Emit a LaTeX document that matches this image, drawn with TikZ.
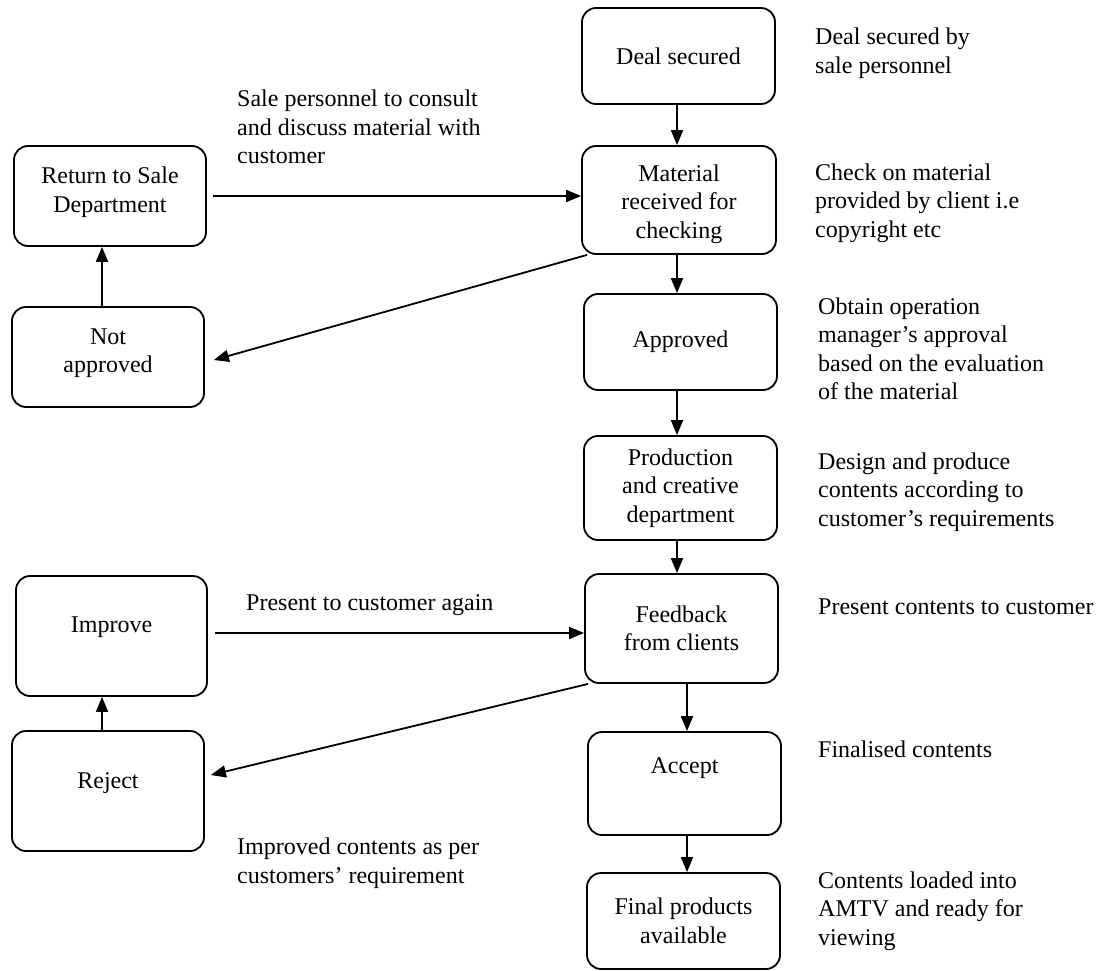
\documentclass[tikz,border=0pt]{standalone}
\usepackage{fontspec}
\setmainfont{Liberation Serif}
\usetikzlibrary{arrows.meta}
% raise text inside a box without changing its size
\newcommand\liftby[2]{\raisebox{#1}[\height][\depth]{#2}}
\begin{document}
\begin{tikzpicture}[x=1pt,y=-1pt,
  every node/.style={font=\fontsize{24}{28.5}\selectfont},
  box/.style={draw, line width=1.8pt, rounded corners=14pt, inner sep=0pt, align=center},
  note/.style={anchor=west, inner sep=0pt, align=left},
  arr/.style={line width=1.8pt, -{Triangle[length=15pt,width=12pt]}}
]
\useasboundingbox (0,0) rectangle (1111,971);

% main column
\node[box, minimum width=193pt, minimum height=96pt]  (deal)     at (678.5,56)  {Deal secured};
\node[box, minimum width=194pt, minimum height=108pt] (material) at (679,200)   {\liftby{-4pt}{Material}\\\liftby{-4pt}{received for}\\\liftby{-4pt}{checking}};
\node[box, minimum width=193pt, minimum height=96pt]  (approved) at (680.5,342) {Approved};
\node[box, minimum width=193pt, minimum height=104pt] (prod)     at (680.5,488) {Production\\and creative\\department};
\node[box, minimum width=193pt, minimum height=109pt] (feedback) at (681.5,628.5) {Feedback\\from clients};
\node[box, minimum width=193pt, minimum height=103pt] (accept)   at (684.5,783.5) {\liftby{15pt}{Accept}};
\node[box, minimum width=193pt, minimum height=96pt]  (final)    at (683.5,921) {Final products\\available};

% side column
\node[box, minimum width=192pt, minimum height=100pt] (return)   at (110,196) {\liftby{4pt}{Return to Sale}\\\liftby{4pt}{Department}};
\node[box, minimum width=192pt, minimum height=100pt] (notappr)  at (108,357) {\liftby{4pt}{Not}\\\liftby{4pt}{approved}};
\node[box, minimum width=191pt, minimum height=120pt] (improve)  at (111.5,636) {\liftby{9pt}{Improve}};
\node[box, minimum width=192pt, minimum height=120pt] (reject)   at (108,791) {\liftby{8pt}{Reject}};

% descriptions on the right
\node[note] (dealnote)     at (815,53)  {Deal secured by\\sale personnel};
\node[note] (materialnote) at (815,203) {Check on material\\provided by client i.e\\copyright etc};
\node[note] (approvednote) at (818,349) {Obtain operation\\manager’s approval\\based on the evaluation\\of the material};
\node[note] (prodnote)     at (818,492) {Design and produce\\contents according to\\customer’s requirements};
\node[note] (feedbacknote) at (818,607) {Present contents to customer};
\node[note] (acceptnote)   at (818,749) {Finalised contents};
\node[note] (finalnote)    at (818,911) {Contents loaded into\\AMTV and ready for\\viewing};

% connector labels
\node[note] (consultlbl) at (237,127) {Sale personnel to consult\\and discuss material with\\customer};
\node[note] (againlbl)   at (246,605) {Present to customer again};
\node[note] (improvelbl) at (237,863) {Improved contents as per\\customers’ requirement};

% main flow
\draw[arr] ([xshift=-1.5pt]deal.south) -- ([xshift=-1.5pt]deal.south |- material.north);
\draw[arr] ([xshift=-2pt]material.south) -- ([xshift=-2pt]material.south |- approved.north);
\draw[arr] ([xshift=-3.5pt]approved.south) -- ([xshift=-3.5pt]approved.south |- prod.north);
\draw[arr] ([xshift=-3.5pt]prod.south) -- ([xshift=-3.5pt]prod.south |- feedback.north);
\draw[arr] ([xshift=5.5pt]feedback.south) -- ([xshift=5.5pt]feedback.south |- accept.north);
\draw[arr] ([xshift=2.5pt]accept.south) -- ([xshift=2.5pt]accept.south |- final.north);

% side loops
\draw[arr] ([xshift=6pt]material.south west) -- ([xshift=9pt,yshift=-3pt]notappr.east);
\draw[arr] ([xshift=-6pt]notappr.north) -- ([xshift=-6pt]notappr.north |- return.south);
\draw[arr, shorten <=6pt] (return.east) -- (return.east -| material.west);
\draw[arr] ([xshift=4pt]feedback.south west) -- ([xshift=6pt,yshift=16pt]reject.east);
\draw[arr] ([xshift=-6pt]reject.north) -- ([xshift=-6pt]reject.north |- improve.south);
\draw[arr, shorten <=7pt] ([yshift=3pt]improve.east) -- ([yshift=3pt]improve.east -| feedback.west);
\end{tikzpicture}
\end{document}
